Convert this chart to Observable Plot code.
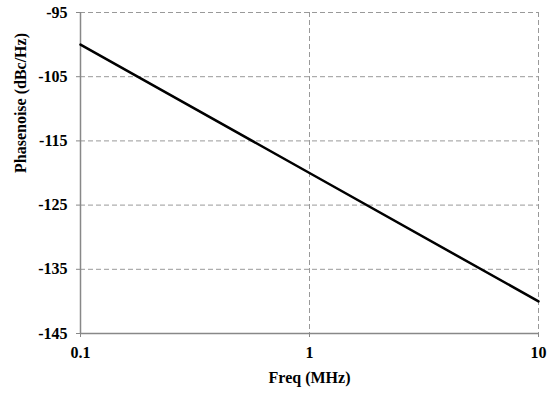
<!DOCTYPE html>
<html>
<head>
<meta charset="utf-8">
<script src="https://cdn.jsdelivr.net/npm/d3@7"></script>
<script src="https://cdn.jsdelivr.net/npm/@observablehq/plot@0.6"></script>
<style>
  html, body { margin: 0; padding: 0; background: #fff; }
</style>
</head>
<body>
<div id="chart"></div>
<script>
const freq = [0.1, 1, 10];
const phaseNoise = [-100, -120, -140];
const xTicks = [0.1, 1, 10];
const yTicks = [-95, -105, -115, -125, -135, -145];
const xLabel = "Freq (MHz)";
const yLabel = "Phasenoise (dBc/Hz)";

const data = freq.map((f, i) => ({f, p: phaseNoise[i]}));
const gridColor = "#999";
const axisColor = "#888";
const FONT = "Liberation Serif";

const chart = Plot.plot({
  width: 554,
  height: 398,
  marginLeft: 80,
  marginRight: 16,
  marginTop: 12,
  marginBottom: 65,
  style: {background: "#fff", color: "#000"},
  x: {type: "log", domain: [0.1, 10]},
  y: {domain: [-145, -95]},
  marks: [
    Plot.gridY(yTicks.slice(0, -1), {stroke: gridColor, strokeOpacity: 1, strokeDasharray: "5,3", strokeWidth: 1}),
    Plot.gridX(xTicks.slice(1), {stroke: gridColor, strokeOpacity: 1, strokeDasharray: "5,3", strokeWidth: 1}),
    Plot.ruleX([xTicks[0]], {stroke: axisColor, strokeWidth: 1.5}),
    Plot.ruleY([yTicks[yTicks.length - 1]], {stroke: axisColor, strokeWidth: 1.5}),
    Plot.line(data, {x: "f", y: "p", stroke: "#000", strokeWidth: 2.5}),
    Plot.axisY(yTicks, {tickSize: 4, tickPadding: 9, stroke: axisColor, fill: "#000", tickFormat: d => String(d), label: null, fontFamily: FONT, fontWeight: "bold", fontSize: 16}),
    Plot.axisX(xTicks, {tickSize: 4, tickPadding: 9, stroke: axisColor, fill: "#000", tickFormat: d => String(d), label: null, fontFamily: FONT, fontWeight: "bold", fontSize: 16}),
    Plot.text([yLabel], {frameAnchor: "left", rotate: -90, dx: -60, fill: "#000", fontFamily: FONT, fontWeight: "bold", fontSize: 16}),
    Plot.text([xLabel], {frameAnchor: "bottom", dy: 49, fill: "#000", fontFamily: FONT, fontWeight: "bold", fontSize: 16})
  ]
});
d3.select(chart).attr("font-family", FONT).attr("font-size", 16).attr("font-weight", "bold");
d3.select(chart).selectAll("text")
  .style("font-family", "'Liberation Serif'")
  .style("font-weight", "bold")
  .style("font-size", "16px");
document.getElementById("chart").appendChild(chart);
</script>
</body>
</html>
